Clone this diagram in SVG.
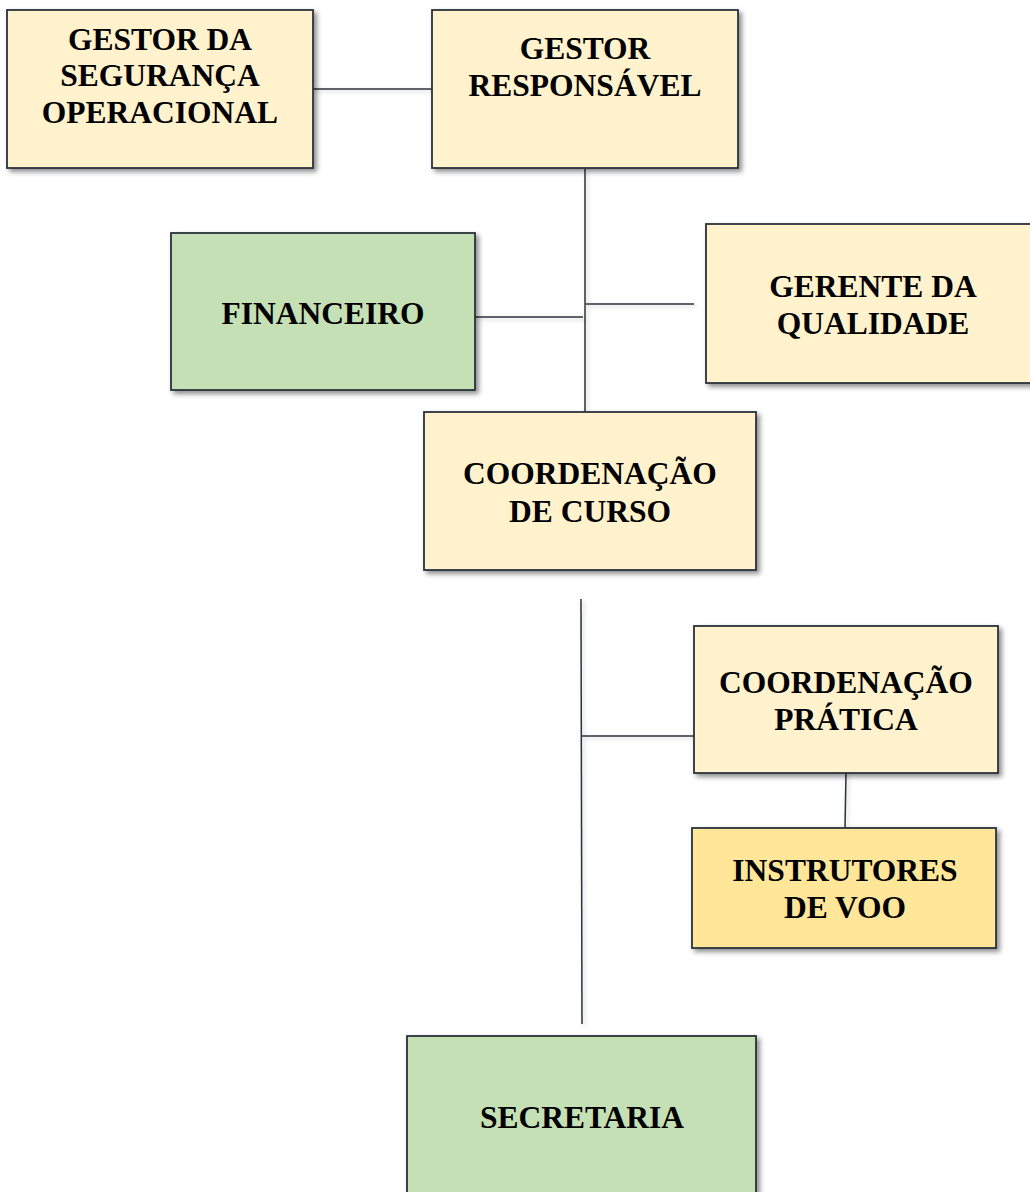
<svg xmlns="http://www.w3.org/2000/svg" width="1030" height="1192" viewBox="0 0 1030 1192">
<defs>
<filter id="sh" x="-10%" y="-10%" width="125%" height="125%">
<feDropShadow dx="3" dy="3" stdDeviation="2.5" flood-color="#000" flood-opacity="0.45"/>
</filter>
<filter id="lsh" filterUnits="userSpaceOnUse" x="0" y="0" width="1030" height="1192">
<feDropShadow dx="2" dy="2" stdDeviation="2" flood-color="#000" flood-opacity="0.2"/>
</filter>
</defs>
<style>
.box{stroke:#2b323b;stroke-width:1.8;filter:url(#sh)}
.y{fill:#fff2cc}
.g{fill:#c5e0b4}
.d{fill:#ffe699}
.t{font-family:"Liberation Serif","Times New Roman",serif;font-weight:bold;font-size:31.5px;fill:#000;text-anchor:middle}
.c{stroke:#2b323b;stroke-width:1.5;fill:none}
</style>
<rect width="1030" height="1192" fill="#fff"/>
<g id="connectors" filter="url(#lsh)">
<line class="c" x1="313" y1="89" x2="432" y2="89"/>
<line class="c" x1="585" y1="169" x2="585" y2="412"/>
<line class="c" x1="475" y1="317" x2="583" y2="317"/>
<line class="c" x1="586" y1="304" x2="694" y2="304"/>
<line class="c" x1="581" y1="599" x2="582" y2="1024"/>
<line class="c" x1="581" y1="736" x2="694" y2="736"/>
<line class="c" x1="846" y1="773" x2="845" y2="828"/>
</g>
<g id="gestor-seguranca">
<rect class="box y" x="7" y="10" width="306" height="158"/>
<text class="t" x="160" y="50">GESTOR DA</text>
<text class="t" x="160" y="86">SEGURANÇA</text>
<text class="t" x="160" y="123">OPERACIONAL</text>
</g>
<g id="gestor-responsavel">
<rect class="box y" x="432" y="10" width="306" height="158"/>
<text class="t" x="585" y="59">GESTOR</text>
<text class="t" x="585" y="96">RESPONSÁVEL</text>
</g>
<g id="financeiro">
<rect class="box g" x="171" y="233" width="304" height="157"/>
<text class="t" x="323" y="324">FINANCEIRO</text>
</g>
<g id="gerente-qualidade">
<rect class="box y" x="706" y="224" width="330" height="159"/>
<text class="t" x="873" y="297">GERENTE DA</text>
<text class="t" x="873" y="334">QUALIDADE</text>
</g>
<g id="coordenacao-curso">
<rect class="box y" x="424" y="412" width="332" height="158"/>
<text class="t" x="590" y="484">COORDENAÇÃO</text>
<text class="t" x="590" y="522">DE CURSO</text>
</g>
<g id="coordenacao-pratica">
<rect class="box y" x="694" y="626" width="304" height="147"/>
<text class="t" x="846" y="693">COORDENAÇÃO</text>
<text class="t" x="846" y="730">PRÁTICA</text>
</g>
<g id="instrutores">
<rect class="box d" x="692" y="828" width="304" height="120"/>
<text class="t" x="845" y="881">INSTRUTORES</text>
<text class="t" x="845" y="918">DE VOO</text>
</g>
<g id="secretaria">
<rect class="box g" x="407" y="1036" width="349" height="170"/>
<text class="t" x="582" y="1128">SECRETARIA</text>
</g>
</svg>
